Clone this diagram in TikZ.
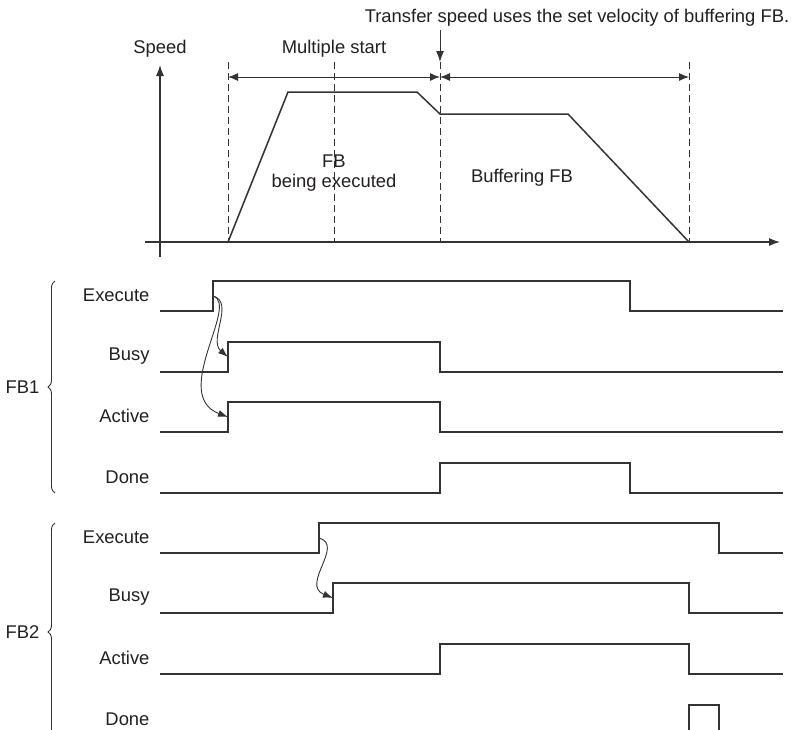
\documentclass[tikz,border=0pt]{standalone}
\usepackage{fontspec}
\setmainfont{Liberation Sans}
\usetikzlibrary{arrows.meta,decorations.pathreplacing}
\definecolor{sigc}{HTML}{333333}
\definecolor{txtc}{HTML}{231F20}

\begin{document}
\begin{tikzpicture}[x=1pt,y=-1pt,
    font=\fontsize{18.4}{20}\selectfont,text=txtc,
    sig/.style={draw=sigc,line width=1.8pt},
    guide/.style={draw=sigc,line width=1pt,dash pattern=on 7pt off 4pt},
    axis/.style={draw=sigc,line width=1.2pt,-{Latex[length=11pt,width=8pt]}},
    span/.style={draw=sigc,line width=1pt,{Latex[length=10pt,width=8pt]}-{Latex[length=10pt,width=8pt]}},
    cause/.style={draw=sigc,line width=0.9pt,-{Latex[length=10pt,width=7pt]}},
    grp/.style={draw=sigc,line width=0.9pt,decorate,decoration={brace,amplitude=7pt}}]
  \useasboundingbox (0,0) rectangle (794,729);
  \clip (0,0) rectangle (794,729);
  % speed profile
  \draw[axis] (160,257) -- (160,65);
  \draw[axis] (145,242) -- (780,242);
  \foreach \x/\n in {228/a,334/b,440/c,689/d}{
    \draw[guide] (\x,62) coordinate (top-\n) -- (\x,242);
    \coordinate (mark-\n) at (\x,77);}
  \draw[sig,line width=1.5pt] (228,242) -- (288,92) -- (417,92) -- (440,114) -- (568,114) -- (689,242);
  \draw[span] (mark-a) -- (mark-c);
  \draw[span] (mark-c) -- (mark-d);
  \node (speed) at (160,49) {Speed};
  \node (multi) at (334,49) {Multiple start};
  \node (note) at (577,18) {Transfer speed uses the set velocity of buffering FB.};
  \draw[axis,line width=1pt] (note.south -| top-c) -- (top-c);
  \node[align=center] (running) at (334,173) {FB\\being executed};
  \node (buffer) at (522,178) {Buffering FB};
  % FB1
  \foreach \y/\name/\r/\f in {311/Execute/213/630, 372/Busy/228/440,
      432/Active/228/440, 493/Done/440/630}{
    \node[anchor=east] (fb1-\name-lbl) at (153,\y-16) {\name};
    \draw[sig] (160,\y) -| (\r,\y-30) -| (\f,\y) -- (783,\y);
    \coordinate (fb1-\name) at (\r,\y-15);}
  \draw[cause] (fb1-Execute) .. controls +(22,6) and +(-20,-17) .. (fb1-Busy);
  \draw[cause] (fb1-Execute) .. controls +(27,8) and +(-58,-22) .. (fb1-Active);
  \draw[grp] (55,493) -- (55,281);
  \node[anchor=east] (fb1) at (43,387) {FB1};
  % FB2
  \foreach \y/\name/\r/\f in {553/Execute/319/719, 613/Busy/333/689,
      674/Active/440/689, 735/Done/689/719}{
    \node[anchor=east] (fb2-\name-lbl) at (153,\y-16) {\name};
    \draw[sig] (160,\y) -| (\r,\y-30) -| (\f,\y) -- (783,\y);
    \coordinate (fb2-\name) at (\r,\y-15);}
  \draw[cause] (fb2-Execute) .. controls +(26,7) and +(-33,-13) .. (fb2-Busy);
  \draw[grp] (55,741) -- (55,523);
  \node[anchor=east] (fb2) at (43,632) {FB2};
\end{tikzpicture}
\end{document}
